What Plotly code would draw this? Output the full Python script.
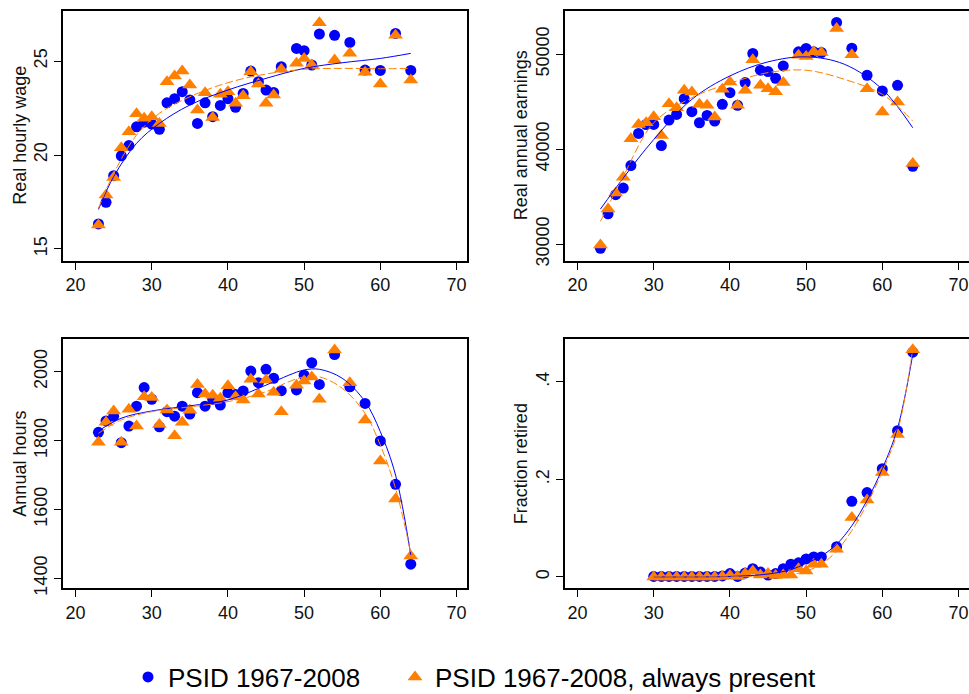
import plotly.graph_objects as go

# ---------------- data ----------------
ages = list(range(23, 48)) + [49, 50, 51, 52, 54, 56, 58, 60, 62, 64]

wage_all = [16.33, 17.48, 18.9, 19.96, 20.5, 21.5, 21.75, 21.65, 21.37, 22.78, 23.0, 23.37, 22.93,
            21.68, 22.78, 22.04, 22.64, 23.0, 22.54, 23.28, 24.47, 23.9, 23.46, 23.33, 24.7,
            25.67, 25.55, 24.79, 26.44, 26.37, 25.99, 24.52, 24.5, 26.47, 24.5]
wage_present = [16.28, 17.87, 18.8, 20.39, 21.24, 22.2, 21.95, 22.04, 21.68, 23.9, 24.2, 24.47, 23.72,
                22.39, 23.32, 22.0, 23.23, 23.37, 22.75, 23.16, 24.43, 23.78, 22.75, 23.2, 24.56,
                24.88, 25.14, 24.79, 27.04, 25.05, 25.41, 24.4, 23.78, 26.38, 23.99]

earn_all = [29577, 33204, 35211, 35915, 38275, 41655, 42600, 42606, 40387, 43063, 43662, 45317, 43944,
            42782, 43556, 42958, 44718, 45951, 44613, 47007, 50070, 48310, 48169, 47465, 48768,
            50246, 50599, 50246, 50176, 53345, 50634, 47782, 46127, 46725, 38204]
earn_present = [29930, 33697, 35387, 37042, 41092, 42606, 42782, 43415, 41444, 44789, 44366, 46197, 46021,
                44718, 44613, 43380, 46303, 47077, 44613, 46197, 49401, 46725, 46373, 46056, 47007,
                49894, 49754, 50246, 50176, 52711, 49930, 46373, 43908, 44965, 38486]

hours_all = [1824, 1857, 1871, 1794, 1842, 1900, 1954, 1920, 1840, 1884, 1871, 1900, 1877,
             1939, 1900, 1920, 1903, 1939, 1934, 1944, 2002, 1968, 2007, 1981, 1945,
             1947, 1990, 2026, 1963, 2050, 1956, 1908, 1799, 1673, 1441]
hours_present = [1795, 1853, 1886, 1795, 1891, 1842, 1927, 1925, 1847, 1889, 1814, 1853, 1888,
                 1963, 1935, 1932, 1923, 1959, 1927, 1918, 1978, 1935, 1976, 1940, 1884,
                 1961, 1973, 1985, 1920, 2063, 1968, 1860, 1741, 1630, 1465]

ages_ret = list(range(30, 53)) + [54, 56, 58, 60, 62, 64]
ret_all = [0.001, 0.001, 0.001, 0.001, 0.001, 0.001, 0.001, 0.001, 0.001, 0.002,
           0.007, 0.001, 0.008, 0.017, 0.010, 0.004, 0.007, 0.017, 0.026, 0.029, 0.037, 0.041, 0.041,
           0.062, 0.155, 0.173, 0.222, 0.300, 0.461]
ret_present = [0.0, 0.0, 0.0, 0.0, 0.0, 0.0, 0.0, 0.0, 0.0, 0.001,
               0.003, 0.001, 0.007, 0.012, 0.004, 0.007, 0.003, 0.004, 0.004, 0.017, 0.012, 0.026, 0.026,
               0.057, 0.122, 0.158, 0.214, 0.292, 0.466]

# fitted curves
fit_ages_wage = [23, 25, 28, 31, 35, 40, 45, 50, 55, 60, 64]
fit_wage_all = [17.1, 18.85, 20.62, 21.68, 22.66, 23.46, 24.08, 24.61, 24.91, 25.14, 25.41]
fit_wage_present = [17.16, 19.02, 21.06, 22.22, 23.1, 23.85, 24.31, 24.56, 24.61, 24.59, 24.61]

fit_ages_earn = [23, 26, 30, 35, 40, 45, 50, 55, 60, 64]
fit_earn_all = [33697, 36972, 41021, 45246, 47711, 49190, 49718, 48944, 46303, 42254]
fit_earn_present = [32394, 37148, 42782, 45422, 46937, 48063, 48310, 47359, 45775, 42958]

fit_ages_hours = [23, 26, 30, 35, 40, 45, 48, 50, 52, 55, 58, 60, 62, 64]
fit_hours_all = [1828, 1865, 1886, 1901, 1918, 1961, 1990, 2005, 2007, 1981, 1913, 1826, 1700, 1468]
fit_hours_present = [1821, 1860, 1884, 1898, 1913, 1942, 1971, 1985, 1985, 1952, 1879, 1787, 1661, 1473]

fit_ages_ret = [30, 40, 45, 48, 50, 52, 54, 56, 58, 60, 62, 64]
fit_ret_all = [0.0, 0.001, 0.006, 0.015, 0.028, 0.043, 0.067, 0.105, 0.157, 0.222, 0.305, 0.457]
fit_ret_present = [0.0, 0.0, 0.001, 0.005, 0.012, 0.026, 0.053, 0.095, 0.150, 0.216, 0.298, 0.468]

x_ticks = [20, 30, 40, 50, 60, 70]
labels = ["PSID 1967-2008", "PSID 1967-2008, always present"]
titles = ["Real hourly wage", "Real annual earnings", "Annual hours", "Fraction retired"]

# ---------------- style ----------------
BLUE = "#0000FF"
ORANGE = "#FF7F00"
FONT = "Liberation Sans, Arial, sans-serif"
W, H = 969, 694
MB = 80            # bottom margin reserved for the legends
HP = H - MB        # plot-area height

def py(v):
    return (HP - v) / HP

fig = go.Figure()

panels = [
    (ages, wage_all, wage_present, fit_ages_wage, fit_wage_all, fit_wage_present),
    (ages, earn_all, earn_present, fit_ages_earn, fit_earn_all, fit_earn_present),
    (ages, hours_all, hours_present, fit_ages_hours, fit_hours_all, fit_hours_present),
    (ages_ret, ret_all, ret_present, fit_ages_ret, fit_ret_all, fit_ret_present),
]

for i, (ax, a, p, fa, fa_all, fa_pr) in enumerate(panels):
    sfx = "" if i == 0 else str(i + 1)
    xa, ya = "x" + sfx, "y" + sfx
    fig.add_trace(go.Scatter(x=ax, y=a, mode="markers", xaxis=xa, yaxis=ya,
                             marker=dict(symbol="circle", size=11, color=BLUE),
                             name=labels[0], showlegend=(i == 0), legend="legend"))
    fig.add_trace(go.Scatter(x=ax, y=p, mode="markers", xaxis=xa, yaxis=ya,
                             marker=dict(symbol="triangle-up", size=13, color=ORANGE),
                             name=labels[1], showlegend=(i == 0), legend="legend2"))
    fig.add_trace(go.Scatter(x=fa, y=fa_all, mode="lines", xaxis=xa, yaxis=ya,
                             line=dict(color=BLUE, width=1, shape="spline", smoothing=1.0),
                             showlegend=False, hoverinfo="skip"))
    fig.add_trace(go.Scatter(x=fa, y=fa_pr, mode="lines", xaxis=xa, yaxis=ya,
                             line=dict(color=ORANGE, width=1, dash="8px,3px", shape="spline", smoothing=1.0),
                             showlegend=False, hoverinfo="skip"))

xdom_left = [63 / W, 467 / W]
xdom_right = [565 / W, 1.0]
ydom_top = [py(261), py(10.7)]
ydom_bot = [py(588.3), py(339)]

def xaxis(domain, anchor, mirror):
    return dict(domain=domain, anchor=anchor, range=[18.35, 71.38], tickvals=x_ticks,
                ticks="outside", ticklen=7, tickwidth=1, tickcolor="black",
                showline=True, linecolor="black", linewidth=1.5, mirror=mirror,
                showgrid=False, zeroline=False,
                tickfont=dict(family=FONT, size=18, color="#111"))

def yaxis(domain, anchor, rng, tv, tt, mirror):
    return dict(domain=domain, anchor=anchor, range=rng, tickvals=tv, ticktext=tt,
                tickangle=-90, ticks="outside", ticklen=7, tickwidth=1, tickcolor="black",
                showline=True, linecolor="black", linewidth=1.5, mirror=mirror,
                showgrid=False, zeroline=False,
                tickfont=dict(family=FONT, size=18, color="#111"))

legend_style = dict(orientation="h", xref="container", yref="container",
                    xanchor="left", y=1 - 677 / H, yanchor="middle",
                    font=dict(family=FONT, size=26, color="black"),
                    bgcolor="rgba(0,0,0,0)")

fig.update_layout(
    width=W, height=H,
    margin=dict(l=0, r=0, t=0, b=MB),
    paper_bgcolor="white", plot_bgcolor="white",
    font=dict(family=FONT, color="black"),
    xaxis=xaxis(xdom_left, "y", True),
    yaxis=yaxis(ydom_top, "x", [14.36, 27.68], [15, 20, 25], ["15", "20", "25"], True),
    xaxis2=xaxis(xdom_right, "y2", True),
    yaxis2=yaxis(ydom_top, "x2", [28236, 54574], [30000, 40000, 50000], ["30000", "40000", "50000"], False),
    xaxis3=xaxis(xdom_left, "y3", True),
    yaxis3=yaxis(ydom_bot, "x3", [1371, 2095], [1400, 1600, 1800, 2000], ["1400", "1600", "1800", "2000"], True),
    xaxis4=xaxis(xdom_right, "y4", True),
    yaxis4=yaxis(ydom_bot, "x4", [-0.0233, 0.488], [0, 0.2, 0.4], ["0", ".2", ".4"], False),
    legend=dict(legend_style, x=128 / W),
    legend2=dict(legend_style, x=395 / W),
    showlegend=True,
)

# y-axis titles as rotated annotations
title_pos = [(20, (10.7 + 261) / 2), (520.5, (10.7 + 261) / 2),
             (20, (339 + 588.3) / 2), (520.5, (339 + 588.3) / 2)]
for t, (px_, py_) in zip(titles, title_pos):
    fig.add_annotation(text=t, x=px_ / W, y=py(py_), xref="paper", yref="paper",
                       xanchor="center", yanchor="middle", textangle=-90, showarrow=False,
                       font=dict(family=FONT, size=18, color="#111"))

fig.write_html("out.html")
